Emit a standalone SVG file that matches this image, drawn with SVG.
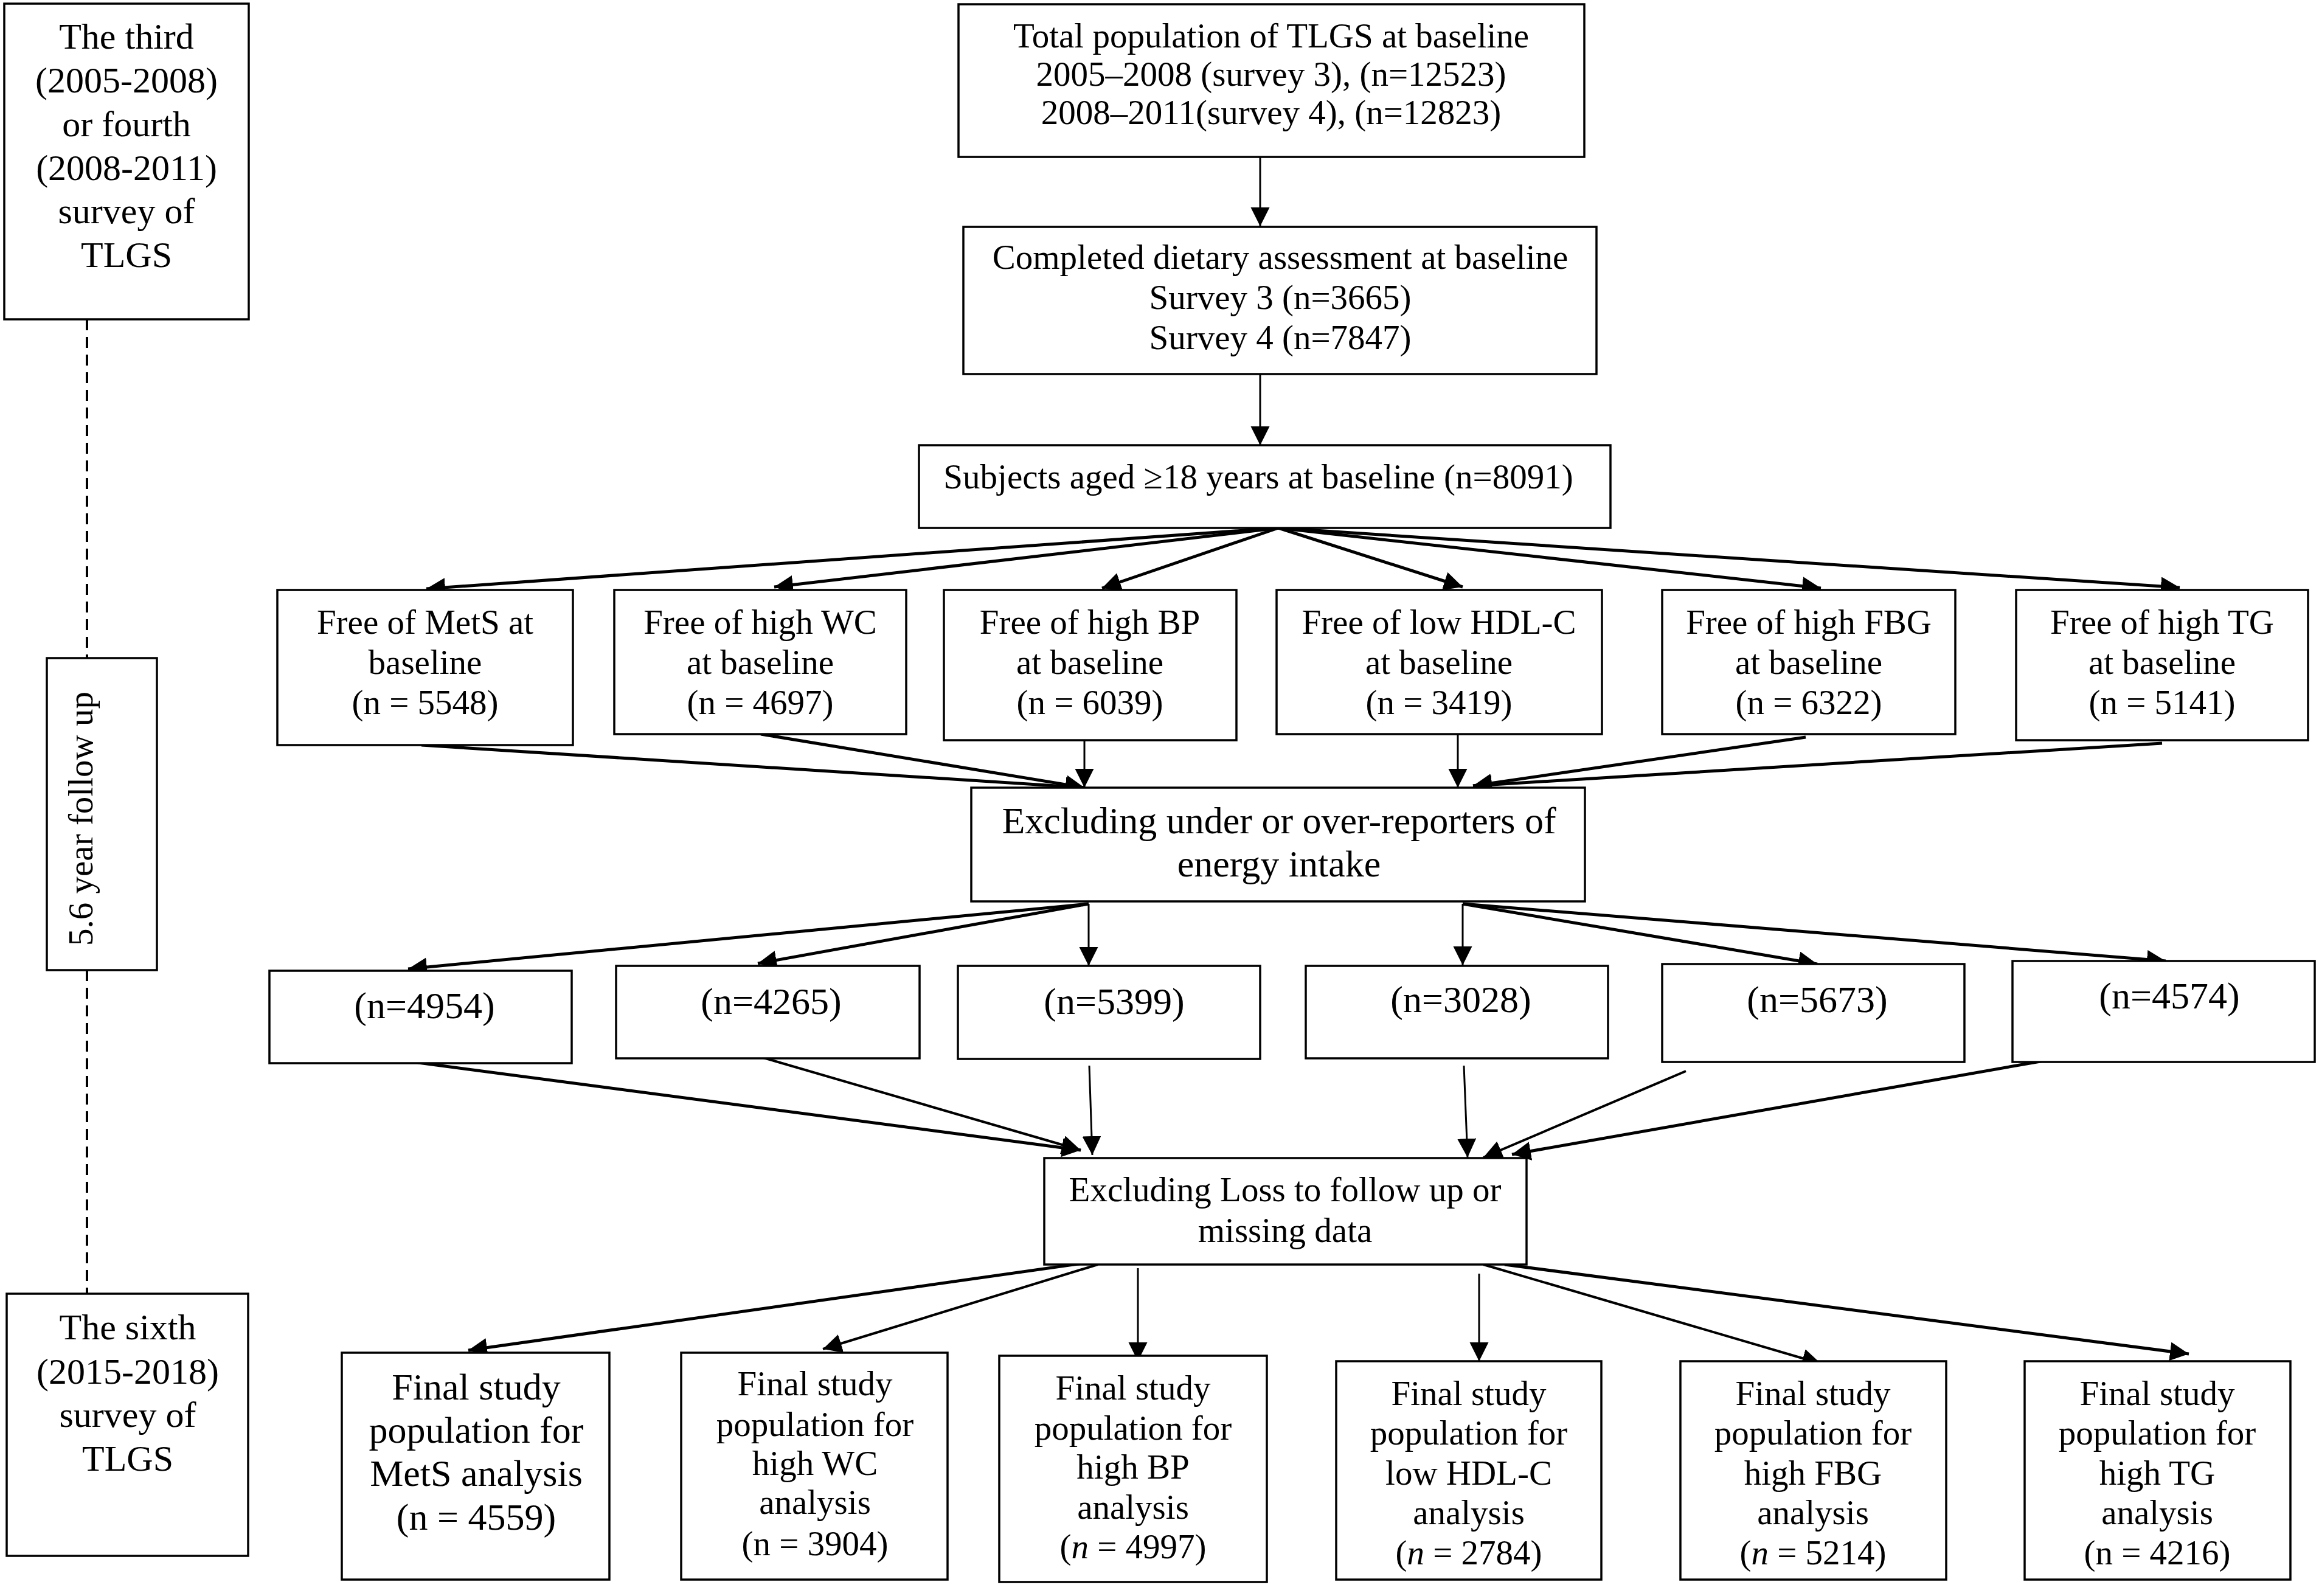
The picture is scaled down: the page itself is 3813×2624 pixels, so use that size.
<svg xmlns="http://www.w3.org/2000/svg" width="3813" height="2624" viewBox="0 0 3813 2624">
<style>
.bx{fill:#fff;stroke:#000;stroke-width:3.5}
text{font-family:"Liberation Serif","Times New Roman",serif;fill:#000;text-anchor:middle}
.f57{font-size:57px}
.f60{font-size:60px}
.f62{font-size:62px}
.dash{stroke:#000;stroke-width:4;stroke-dasharray:18 11;fill:none}
.thick{stroke:#000;stroke-width:5;fill:none;marker-end:url(#ah)}
.mid{stroke:#000;stroke-width:4;fill:none;marker-end:url(#ah)}
.thin{stroke:#000;stroke-width:3;fill:none;marker-end:url(#ah)}
</style>
<defs>
<marker id="ah" markerUnits="userSpaceOnUse" markerWidth="34" markerHeight="34" refX="31" refY="15.5" orient="auto">
<path d="M0,0 L31,15.5 L0,31 z" fill="#000"/>
</marker>
</defs>
<rect width="3813" height="2624" fill="#fff"/>

<g id="timeline">
<line class="dash" x1="143" y1="525" x2="143" y2="1082"/>
<line class="dash" x1="143" y1="1595" x2="143" y2="2127"/>
</g>

<g id="left-top">
<rect class="bx" x="7" y="6" width="402" height="519"/>
<text class="f60" x="208" y="80">The third</text>
<text class="f60" x="208" y="152">(2005-2008)</text>
<text class="f60" x="208" y="224">or fourth</text>
<text class="f60" x="208" y="296">(2008-2011)</text>
<text class="f60" x="208" y="367">survey of</text>
<text class="f60" x="208" y="439">TLGS</text>
</g>

<g id="left-mid">
<rect class="bx" x="77" y="1082" width="181" height="513"/>
<text class="f57" transform="translate(152,1346) rotate(-90)">5.6 year follow up</text>
</g>

<g id="left-bottom">
<rect class="bx" x="11" y="2127" width="397" height="431"/>
<text class="f60" x="210" y="2202">The sixth</text>
<text class="f60" x="210" y="2275">(2015-2018)</text>
<text class="f60" x="210" y="2346">survey of</text>
<text class="f60" x="210" y="2418">TLGS</text>
</g>

<g id="connectors">
<line class="thin" x1="2072" y1="258" x2="2072" y2="372"/>
<line class="thin" x1="2072" y1="615" x2="2072" y2="732"/>

<line class="thick" x1="2102" y1="868" x2="701" y2="968"/>
<line class="thick" x1="2102" y1="868" x2="1273" y2="965"/>
<line class="thick" x1="2102" y1="868" x2="1812" y2="967"/>
<line class="thick" x1="2102" y1="868" x2="2405" y2="965"/>
<line class="thick" x1="2102" y1="868" x2="2994" y2="967"/>
<line class="thick" x1="2102" y1="868" x2="3584" y2="966"/>

<line class="thick" x1="693" y1="1225" x2="1783" y2="1295"/>
<line class="thick" x1="1251" y1="1207" x2="1783" y2="1295"/>
<line class="thin" x1="1783" y1="1207" x2="1783" y2="1295"/>
<line class="thin" x1="2397" y1="1207" x2="2397" y2="1295"/>
<line class="thick" x1="2969" y1="1212" x2="2422" y2="1292"/>
<line class="thick" x1="3555" y1="1222" x2="2422" y2="1292"/>

<line class="thick" x1="1790" y1="1486" x2="671" y2="1593"/>
<line class="thick" x1="1790" y1="1486" x2="1246" y2="1584"/>
<line class="thin" x1="1790" y1="1486" x2="1790" y2="1588"/>
<line class="thin" x1="2405" y1="1486" x2="2405" y2="1587"/>
<line class="thick" x1="2405" y1="1486" x2="2988" y2="1585"/>
<line class="thick" x1="2405" y1="1486" x2="3561" y2="1580"/>

<line class="thick" x1="687" y1="1747" x2="1777" y2="1891"/>
<line class="mid" x1="1255" y1="1739" x2="1777" y2="1891"/>
<line class="thin" x1="1791" y1="1752" x2="1796" y2="1899"/>
<line class="thin" x1="2407" y1="1752" x2="2413" y2="1903"/>
<line class="mid" x1="2772" y1="1761" x2="2439" y2="1903"/>
<line class="thick" x1="3355" y1="1745" x2="2486" y2="1898"/>

<line class="thick" x1="1801" y1="2074" x2="770" y2="2220"/>
<line class="mid" x1="1805" y1="2079" x2="1353" y2="2218"/>
<line class="thin" x1="1871" y1="2085" x2="1871" y2="2238"/>
<line class="thin" x1="2432" y1="2094" x2="2432" y2="2238"/>
<line class="mid" x1="2439" y1="2079" x2="2994" y2="2242"/>
<line class="thick" x1="2474" y1="2079" x2="3599" y2="2226"/>
</g>

<g id="n1">
<rect class="bx" x="1576" y="7" width="1029" height="251"/>
<text class="f57" x="2090" y="78">Total population of TLGS at baseline</text>
<text class="f57" x="2090" y="141">2005–2008 (survey 3), (n=12523)</text>
<text class="f57" x="2090" y="204">2008–2011(survey 4), (n=12823)</text>
</g>

<g id="n2">
<rect class="bx" x="1584" y="373" width="1041" height="242"/>
<text class="f57" x="2105" y="442">Completed dietary assessment at baseline</text>
<text class="f57" x="2105" y="508">Survey 3 (n=3665)</text>
<text class="f57" x="2105" y="574">Survey 4 (n=7847)</text>
</g>

<g id="n3">
<rect class="bx" x="1511" y="732" width="1137" height="136"/>
<text class="f57" x="2069" y="803">Subjects aged ≥18 years at baseline (n=8091)</text>
</g>

<g id="b1">
<rect class="bx" x="456" y="970" width="486" height="255"/>
<text class="f57" x="699" y="1042">Free of MetS at</text>
<text class="f57" x="699" y="1108">baseline</text>
<text class="f57" x="699" y="1174">(n = 5548)</text>
</g>
<g id="b2">
<rect class="bx" x="1010" y="970" width="480" height="237"/>
<text class="f57" x="1250" y="1042">Free of high WC</text>
<text class="f57" x="1250" y="1108">at baseline</text>
<text class="f57" x="1250" y="1174">(n = 4697)</text>
</g>
<g id="b3">
<rect class="bx" x="1552" y="970" width="481" height="247"/>
<text class="f57" x="1792" y="1042">Free of high BP</text>
<text class="f57" x="1792" y="1108">at baseline</text>
<text class="f57" x="1792" y="1174">(n = 6039)</text>
</g>
<g id="b4">
<rect class="bx" x="2099" y="970" width="535" height="237"/>
<text class="f57" x="2366" y="1042">Free of low HDL-C</text>
<text class="f57" x="2366" y="1108">at baseline</text>
<text class="f57" x="2366" y="1174">(n = 3419)</text>
</g>
<g id="b5">
<rect class="bx" x="2733" y="970" width="482" height="237"/>
<text class="f57" x="2974" y="1042">Free of high FBG</text>
<text class="f57" x="2974" y="1108">at baseline</text>
<text class="f57" x="2974" y="1174">(n = 6322)</text>
</g>
<g id="b6">
<rect class="bx" x="3315" y="970" width="480" height="247"/>
<text class="f57" x="3555" y="1042">Free of high TG</text>
<text class="f57" x="3555" y="1108">at baseline</text>
<text class="f57" x="3555" y="1174">(n = 5141)</text>
</g>

<g id="excl-energy">
<rect class="bx" x="1597" y="1295" width="1009" height="187"/>
<text class="f62" x="2103" y="1370">Excluding under or over-reporters of</text>
<text class="f62" x="2103" y="1441">energy intake</text>
</g>

<g id="c1"><rect class="bx" x="443" y="1596" width="497" height="152"/><text class="f62" x="698" y="1674">(n=4954)</text></g>
<g id="c2"><rect class="bx" x="1013" y="1588" width="499" height="152"/><text class="f62" x="1268" y="1667">(n=4265)</text></g>
<g id="c3"><rect class="bx" x="1575" y="1588" width="497" height="153"/><text class="f62" x="1832" y="1667">(n=5399)</text></g>
<g id="c4"><rect class="bx" x="2147" y="1588" width="497" height="152"/><text class="f62" x="2402" y="1664">(n=3028)</text></g>
<g id="c5"><rect class="bx" x="2733" y="1585" width="497" height="161"/><text class="f62" x="2988" y="1664">(n=5673)</text></g>
<g id="c6"><rect class="bx" x="3309" y="1580" width="497" height="166"/><text class="f62" x="3567" y="1658">(n=4574)</text></g>

<g id="excl-loss">
<rect class="bx" x="1717" y="1904" width="793" height="175"/>
<text class="f57" x="2113" y="1975">Excluding Loss to follow up or</text>
<text class="f57" x="2113" y="2042">missing data</text>
</g>

<g id="d1">
<rect class="bx" x="562" y="2224" width="440" height="373"/>
<text class="f62" x="783" y="2301">Final study</text>
<text class="f62" x="783" y="2372">population for</text>
<text class="f62" x="783" y="2443">MetS analysis</text>
<text class="f62" x="783" y="2515">(n = 4559)</text>
</g>
<g id="d2">
<rect class="bx" x="1120" y="2224" width="438" height="373"/>
<text class="f57" x="1340" y="2294">Final study</text>
<text class="f57" x="1340" y="2361">population for</text>
<text class="f57" x="1340" y="2425">high WC</text>
<text class="f57" x="1340" y="2489">analysis</text>
<text class="f57" x="1340" y="2557">(n = 3904)</text>
</g>
<g id="d3">
<rect class="bx" x="1643" y="2229" width="440" height="372"/>
<text class="f57" x="1863" y="2301">Final study</text>
<text class="f57" x="1863" y="2367">population for</text>
<text class="f57" x="1863" y="2431">high BP</text>
<text class="f57" x="1863" y="2497">analysis</text>
<text class="f57" x="1863" y="2562">(<tspan font-style="italic">n</tspan> = 4997)</text>
</g>
<g id="d4">
<rect class="bx" x="2197" y="2238" width="436" height="359"/>
<text class="f57" x="2415" y="2310">Final study</text>
<text class="f57" x="2415" y="2375">population for</text>
<text class="f57" x="2415" y="2441">low HDL-C</text>
<text class="f57" x="2415" y="2506">analysis</text>
<text class="f57" x="2415" y="2572">(<tspan font-style="italic">n</tspan> = 2784)</text>
</g>
<g id="d5">
<rect class="bx" x="2763" y="2238" width="437" height="359"/>
<text class="f57" x="2981" y="2310">Final study</text>
<text class="f57" x="2981" y="2375">population for</text>
<text class="f57" x="2981" y="2441">high FBG</text>
<text class="f57" x="2981" y="2506">analysis</text>
<text class="f57" x="2981" y="2572">(<tspan font-style="italic">n</tspan> = 5214)</text>
</g>
<g id="d6">
<rect class="bx" x="3329" y="2238" width="437" height="359"/>
<text class="f57" x="3547" y="2310">Final study</text>
<text class="f57" x="3547" y="2375">population for</text>
<text class="f57" x="3547" y="2441">high TG</text>
<text class="f57" x="3547" y="2506">analysis</text>
<text class="f57" x="3547" y="2572">(n = 4216)</text>
</g>
</svg>
